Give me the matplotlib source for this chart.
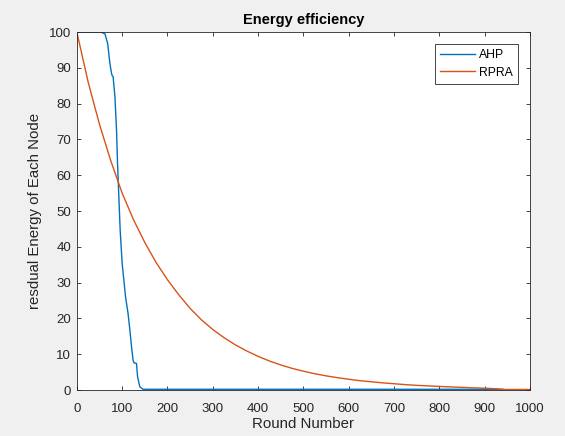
import numpy as np
import matplotlib.pyplot as plt

plt.rcParams['font.family'] = ['Liberation Sans', 'DejaVu Sans']

# AHP - residual energy
ahp_round = [0, 54, 58, 62, 68, 73, 76.5, 78, 80, 84, 87.6, 89.8, 92.7, 95.6, 100,
             107.5, 113, 117, 120.7, 124, 126, 131.7, 134, 139, 146, 940]
ahp_energy = [100, 100, 99.7, 99.5, 96.8, 91.2, 88.5, 87.8, 87.6, 82, 72.6, 63.3, 54,
              44.7, 35.4, 26, 21.4, 16.8, 12.1, 8.4, 7.6, 7.4, 3.7, 0.9, 0.2, 0.2]

# RPRA
rpra_round = [0, 25, 50, 75, 100, 125, 150, 175, 200, 225, 250, 275, 300, 325, 350,
              375, 400, 425, 450, 475, 500, 525, 550, 575, 600, 625, 650, 675, 700,
              725, 750, 775, 800, 825, 850, 875, 900, 925, 940, 1000]
rpra_energy = [100, 86, 74.2, 64, 55, 47.6, 41.2, 35.6, 30.8, 26.6, 22.8, 19.6, 16.9, 14.6,
               12.6, 10.9, 9.4, 8.1, 7.0, 6.05, 5.25, 4.55, 3.95, 3.45, 3.0, 2.6, 2.3, 2.0,
               1.75, 1.5, 1.3, 1.15, 1.0, 0.85, 0.75, 0.6, 0.5, 0.35, 0.15, 0.15]

fig = plt.figure(figsize=(5.65, 4.36), dpi=100, facecolor='#f0f0f0')
ax = fig.add_axes([0.136, 0.1055, 0.802, 0.821])

ax.plot(ahp_round, ahp_energy, color='#0072BD', lw=1.0, label='AHP')
ax.plot(rpra_round, rpra_energy, color='#D95319', lw=1.0, label='RPRA')

ax.set_xlim(0, 1000)
ax.set_ylim(0, 100)
ax.set_xticks(np.arange(0, 1001, 100))
ax.set_yticks(np.arange(0, 101, 10))
ax.tick_params(direction='in', top=True, right=True, labelsize=9.5,
               colors='#262626', length=3, width=0.6, pad=4)
ax.tick_params(axis='x', pad=9)
for s in ax.spines.values():
    s.set_color('#262626')
    s.set_linewidth(0.6)

ax.set_xlabel('Round Number', fontsize=10.8, color='#262626', labelpad=2)
ax.set_ylabel('resdual Energy of Each Node', fontsize=10.8, color='#262626', labelpad=5)
ax.set_title('Energy efficiency', fontsize=10.5, fontweight='bold', color='black', pad=6)

leg = ax.legend(loc='upper right', fontsize=8.8, fancybox=False, framealpha=1,
                edgecolor='#262626', handlelength=2.9, borderaxespad=1.0,
                handletextpad=0.3, labelspacing=0.45, borderpad=0.4)
leg.get_frame().set_linewidth(0.6)

fig.savefig('out.png', dpi=100, facecolor=fig.get_facecolor())
